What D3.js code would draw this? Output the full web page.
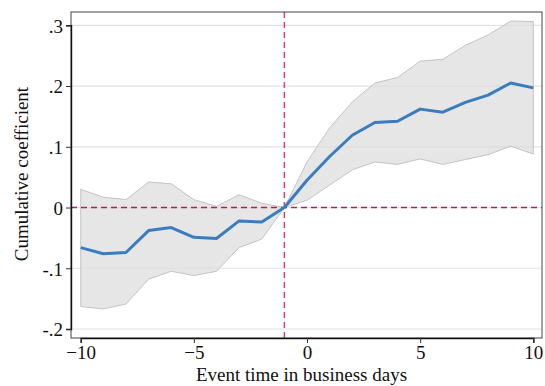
<!DOCTYPE html>
<html lang="en">
<head>
    <meta charset="UTF-8">
    <title>Cumulative coefficient</title>
    <style>
        body { margin: 0; background: #fff; }
    </style>
</head>
<body>
    <svg width="545" height="386"></svg>
    <script src="https://d3js.org/d3.v7.min.js"></script>
    <script>

        // Event time (business days)
        const days = [-10, -9, -8, -7, -6, -5, -4, -3, -2, -1, 0, 1, 2, 3, 4, 5, 6, 7, 8, 9, 10];

        // Point estimates
        const coef = [-0.066, -0.076, -0.074, -0.038, -0.033, -0.049, -0.051, -0.022, -0.024, 0,
                      0.045, 0.084, 0.119, 0.140, 0.142, 0.162, 0.157, 0.173, 0.185, 0.205, 0.197];

        // Confidence band
        const upper = [0.030, 0.017, 0.013, 0.042, 0.039, 0.013, 0.002, 0.021, 0.007, 0,
                       0.075, 0.131, 0.174, 0.205, 0.214, 0.241, 0.244, 0.267, 0.284, 0.307, 0.306];
        const lower = [-0.163, -0.167, -0.159, -0.118, -0.105, -0.112, -0.105, -0.066, -0.052, 0,
                       0.012, 0.037, 0.062, 0.075, 0.071, 0.080, 0.071, 0.079, 0.087, 0.101, 0.088];

        const xTicks = [-10, -5, 0, 5, 10];
        const yTicks = [-0.2, -0.1, 0, 0.1, 0.2, 0.3];
        const yTickLabels = ['-.2', '-.1', '0', '.1', '.2', '.3'];

        const eventDay = -1;

        const serif = '"Liberation Serif", "Times New Roman", Times, serif';

        const margin = { left: 71, right: 3, top: 12, bottom: 48 };

        const svg = d3.select('svg');
        const width = +svg.attr('width');
        const height = +svg.attr('height');
        const innerWidth = width - margin.left - margin.right;
        const innerHeight = height - margin.top - margin.bottom;

        const data = days.map(function (d, i) {
            return { day: d, coef: coef[i], upper: upper[i], lower: lower[i] };
        });

        const xScale = d3.scaleLinear()
            .domain([-10, 10])
            .range([9.7, innerWidth - 8.7]);

        const yScale = d3.scaleLinear()
            .domain([-0.2, 0.3])
            .range([317, 13.3]);

        const group = svg.append('g')
            .attr('transform', 'translate(' + margin.left + ' ' + margin.top + ')');

        // Gridlines
        group.append('g')
            .selectAll('line')
            .data(yTicks)
            .enter()
            .append('line')
            .attr('x1', 0)
            .attr('x2', innerWidth)
            .attr('y1', function (d) { return yScale(d); })
            .attr('y2', function (d) { return yScale(d); })
            .attr('stroke', '#e2e2e2')
            .attr('stroke-width', 1.2);

        // Confidence band
        const area = d3.area()
            .x(function (d) { return xScale(d.day); })
            .y0(function (d) { return yScale(d.lower); })
            .y1(function (d) { return yScale(d.upper); });

        group.append('path')
            .datum(data)
            .attr('d', area)
            .attr('fill', '#dcdcdc')
            .attr('fill-opacity', 0.7)
            .attr('stroke', '#c4c4c4')
            .attr('stroke-width', 1);

        // Reference lines
        group.append('line')
            .attr('x1', 0)
            .attr('x2', innerWidth)
            .attr('y1', yScale(0))
            .attr('y2', yScale(0))
            .attr('stroke', '#b3224b')
            .attr('stroke-width', 1.3)
            .attr('stroke-dasharray', '6,4');

        group.append('line')
            .attr('x1', xScale(eventDay))
            .attr('x2', xScale(eventDay))
            .attr('y1', 0)
            .attr('y2', innerHeight)
            .attr('stroke', '#d9436b')
            .attr('stroke-width', 1.5)
            .attr('stroke-dasharray', '6,4');

        // Estimate line
        const line = d3.line()
            .x(function (d) { return xScale(d.day); })
            .y(function (d) { return yScale(d.coef); });

        group.append('path')
            .datum(data)
            .attr('d', line)
            .attr('fill', 'none')
            .attr('stroke', '#3a7dbf')
            .attr('stroke-width', 3)
            .attr('stroke-linejoin', 'round');

        // Frame
        group.append('rect')
            .attr('x', 0)
            .attr('y', 0)
            .attr('width', innerWidth)
            .attr('height', innerHeight)
            .attr('fill', 'none')
            .attr('stroke', '#444')
            .attr('stroke-width', 1);

        // Axes
        const xAxis = d3.axisBottom(xScale)
            .tickValues(xTicks)
            .tickSize(5)
            .tickPadding(3)
            .tickFormat(d3.format('d'));

        const yAxis = d3.axisLeft(yScale)
            .tickValues(yTicks)
            .tickSize(5)
            .tickPadding(3)
            .tickFormat(function (d, i) { return yTickLabels[i]; });

        const xAxisG = group.append('g')
            .attr('transform', 'translate(0 ' + innerHeight + ')')
            .call(xAxis);

        const yAxisG = group.append('g')
            .call(yAxis);

        [xAxisG, yAxisG].forEach(function (g) {
            g.attr('font-family', serif).attr('font-size', 19);
            g.select('.domain').attr('stroke', '#111').attr('stroke-width', 1.4);
            g.selectAll('.tick line').attr('stroke', '#333');
            g.selectAll('.tick text').attr('fill', '#111');
        });
        yAxisG.selectAll('.tick text').attr('dy', '0.36em');

        // Axis titles
        svg.append('text')
            .attr('x', margin.left + innerWidth / 2 - 5)
            .attr('y', 381)
            .attr('font-family', serif)
            .attr('font-size', 19)
            .attr('fill', '#111')
            .style('text-anchor', 'middle')
            .text('Event time in business days');

        svg.append('text')
            .attr('transform', 'translate(28 ' + (margin.top + innerHeight / 2 - 1) + ') rotate(-90)')
            .attr('font-family', serif)
            .attr('font-size', 19)
            .attr('fill', '#111')
            .style('text-anchor', 'middle')
            .text('Cumulative coefficient');

    </script>
</body>
</html>
